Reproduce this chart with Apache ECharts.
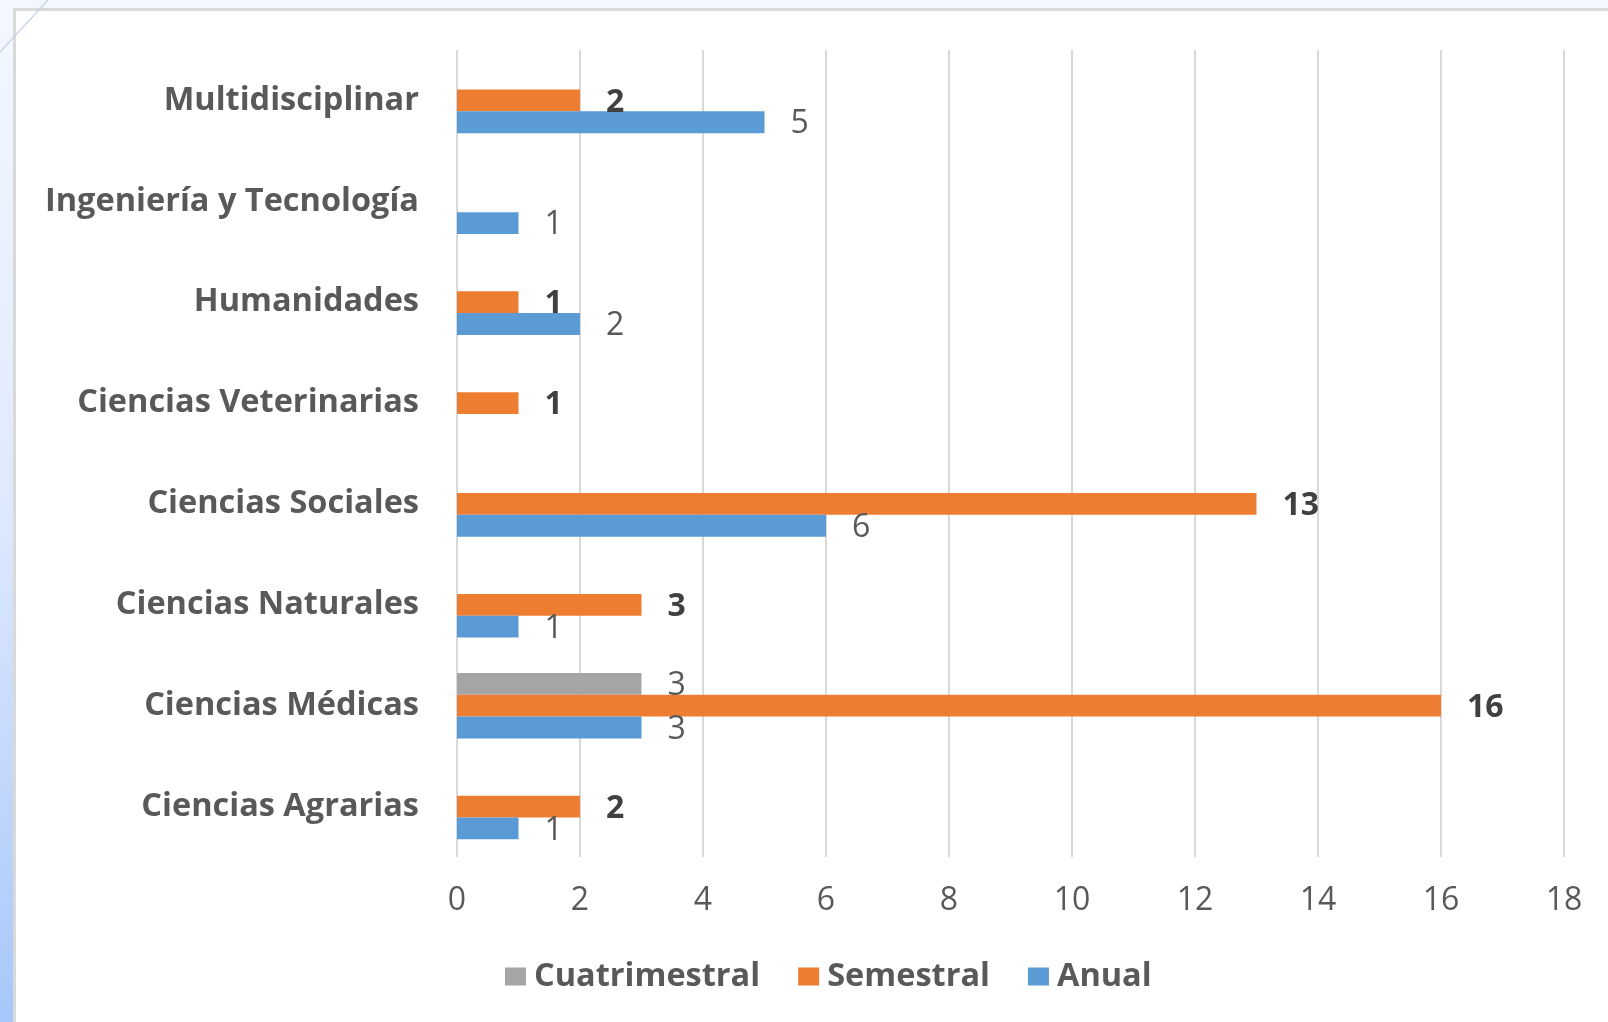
<!DOCTYPE html>
<html>
<head>
<meta charset="utf-8">
<script src="https://cdn.jsdelivr.net/npm/echarts@6/dist/echarts.min.js"></script>
<style>
  html, body { margin: 0; padding: 0; width: 1608px; height: 1022px; overflow: hidden; }
  body { background: linear-gradient(180deg, #f4f7fe 0%, #dfe9fd 50%, #a6c7fa 100%); position: relative; }
  #box { position: absolute; left: 13px; top: 8px; width: 1620px; height: 1030px; background: #ffffff;
         border-left: 3px solid #d9d9d9; border-top: 3px solid #d9d9d9; box-sizing: border-box; }
  #topstrip { position: absolute; left: 0; top: 0; width: 1608px; height: 8px; background: #f4f7fe; }
  #diag { position: absolute; left: 0; top: 0; }
  #chart { position: absolute; left: 0; top: 0; width: 1608px; height: 1022px; }
</style>
</head>
<body>
<div id="topstrip"></div>
<div id="box"></div>
<svg id="diag" width="60" height="60"><line x1="48" y1="0" x2="0" y2="52" stroke="#c5d0e6" stroke-width="1.2"/></svg>
<div id="chart"></div>
<script>
// Categories, bottom to top
const categories = [
  'Ciencias Agrarias',
  'Ciencias Médicas',
  'Ciencias Naturales',
  'Ciencias Sociales',
  'Ciencias Veterinarias',
  'Humanidades',
  'Ingeniería y Tecnología',
  'Multidisciplinar'
];
const cuatrimestral = [null, 3, null, null, null, null, null, null];
const semestral     = [2, 16, 3, 13, 1, 1, null, 2];
const anual         = [1, 3, 1, 6, null, 2, 1, 5];
const seriesNames = ['Cuatrimestral', 'Semestral', 'Anual'];
const xTicks = [0, 2, 4, 6, 8, 10, 12, 14, 16, 18];

const FONT = '"Open Sans", sans-serif';
const chart = echarts.init(document.getElementById('chart'), null, { renderer: 'canvas' });

function lbl(bold) {
  return {
    show: true,
    position: 'right',
    distance: 26,
    offset: [0, 2],
    fontFamily: FONT,
    fontSize: 32,
    fontWeight: bold ? 'bold' : 'normal',
    color: bold ? '#404040' : '#595959'
  };
}

chart.setOption({
  backgroundColor: 'transparent',
  animation: false,
  grid: { left: 457, right: 44, top: 50, bottom: 165, containLabel: false },
  legend: {
    data: seriesNames,
    left: 500,
    top: 955,
    icon: 'rect',
    itemWidth: 21,
    itemHeight: 18,
    itemGap: 38,
    textStyle: { fontFamily: FONT, fontSize: 32.5, fontWeight: 'bold', color: '#595959', padding: [0, 0, 0, 3] }
  },
  xAxis: {
    type: 'value',
    min: xTicks[0],
    max: xTicks[xTicks.length - 1],
    interval: 2,
    axisLine: { show: false },
    axisTick: { show: false },
    splitLine: { show: true, lineStyle: { color: '#d9d9d9', width: 2 } },
    axisLabel: { fontFamily: FONT, fontSize: 32, color: '#595959', margin: 28 }
  },
  yAxis: {
    type: 'category',
    data: categories,
    axisLine: { show: false },
    axisTick: { show: false },
    axisLabel: { fontFamily: FONT, fontSize: 32.5, fontWeight: 'bold', color: '#595959', margin: 38, padding: [8, 0, 0, 0] }
  },
  series: [
    { name: 'Cuatrimestral', type: 'bar', data: cuatrimestral, itemStyle: { color: '#a5a5a5' },
      barGap: '0%', barCategoryGap: '35%', label: lbl(false) },
    { name: 'Semestral', type: 'bar', data: semestral, itemStyle: { color: '#ed7d31' },
      barGap: '0%', barCategoryGap: '35%', label: lbl(true) },
    { name: 'Anual', type: 'bar', data: anual, itemStyle: { color: '#5b9bd5' },
      barGap: '0%', barCategoryGap: '35%', label: lbl(false) }
  ]
});
</script>
</body>
</html>
